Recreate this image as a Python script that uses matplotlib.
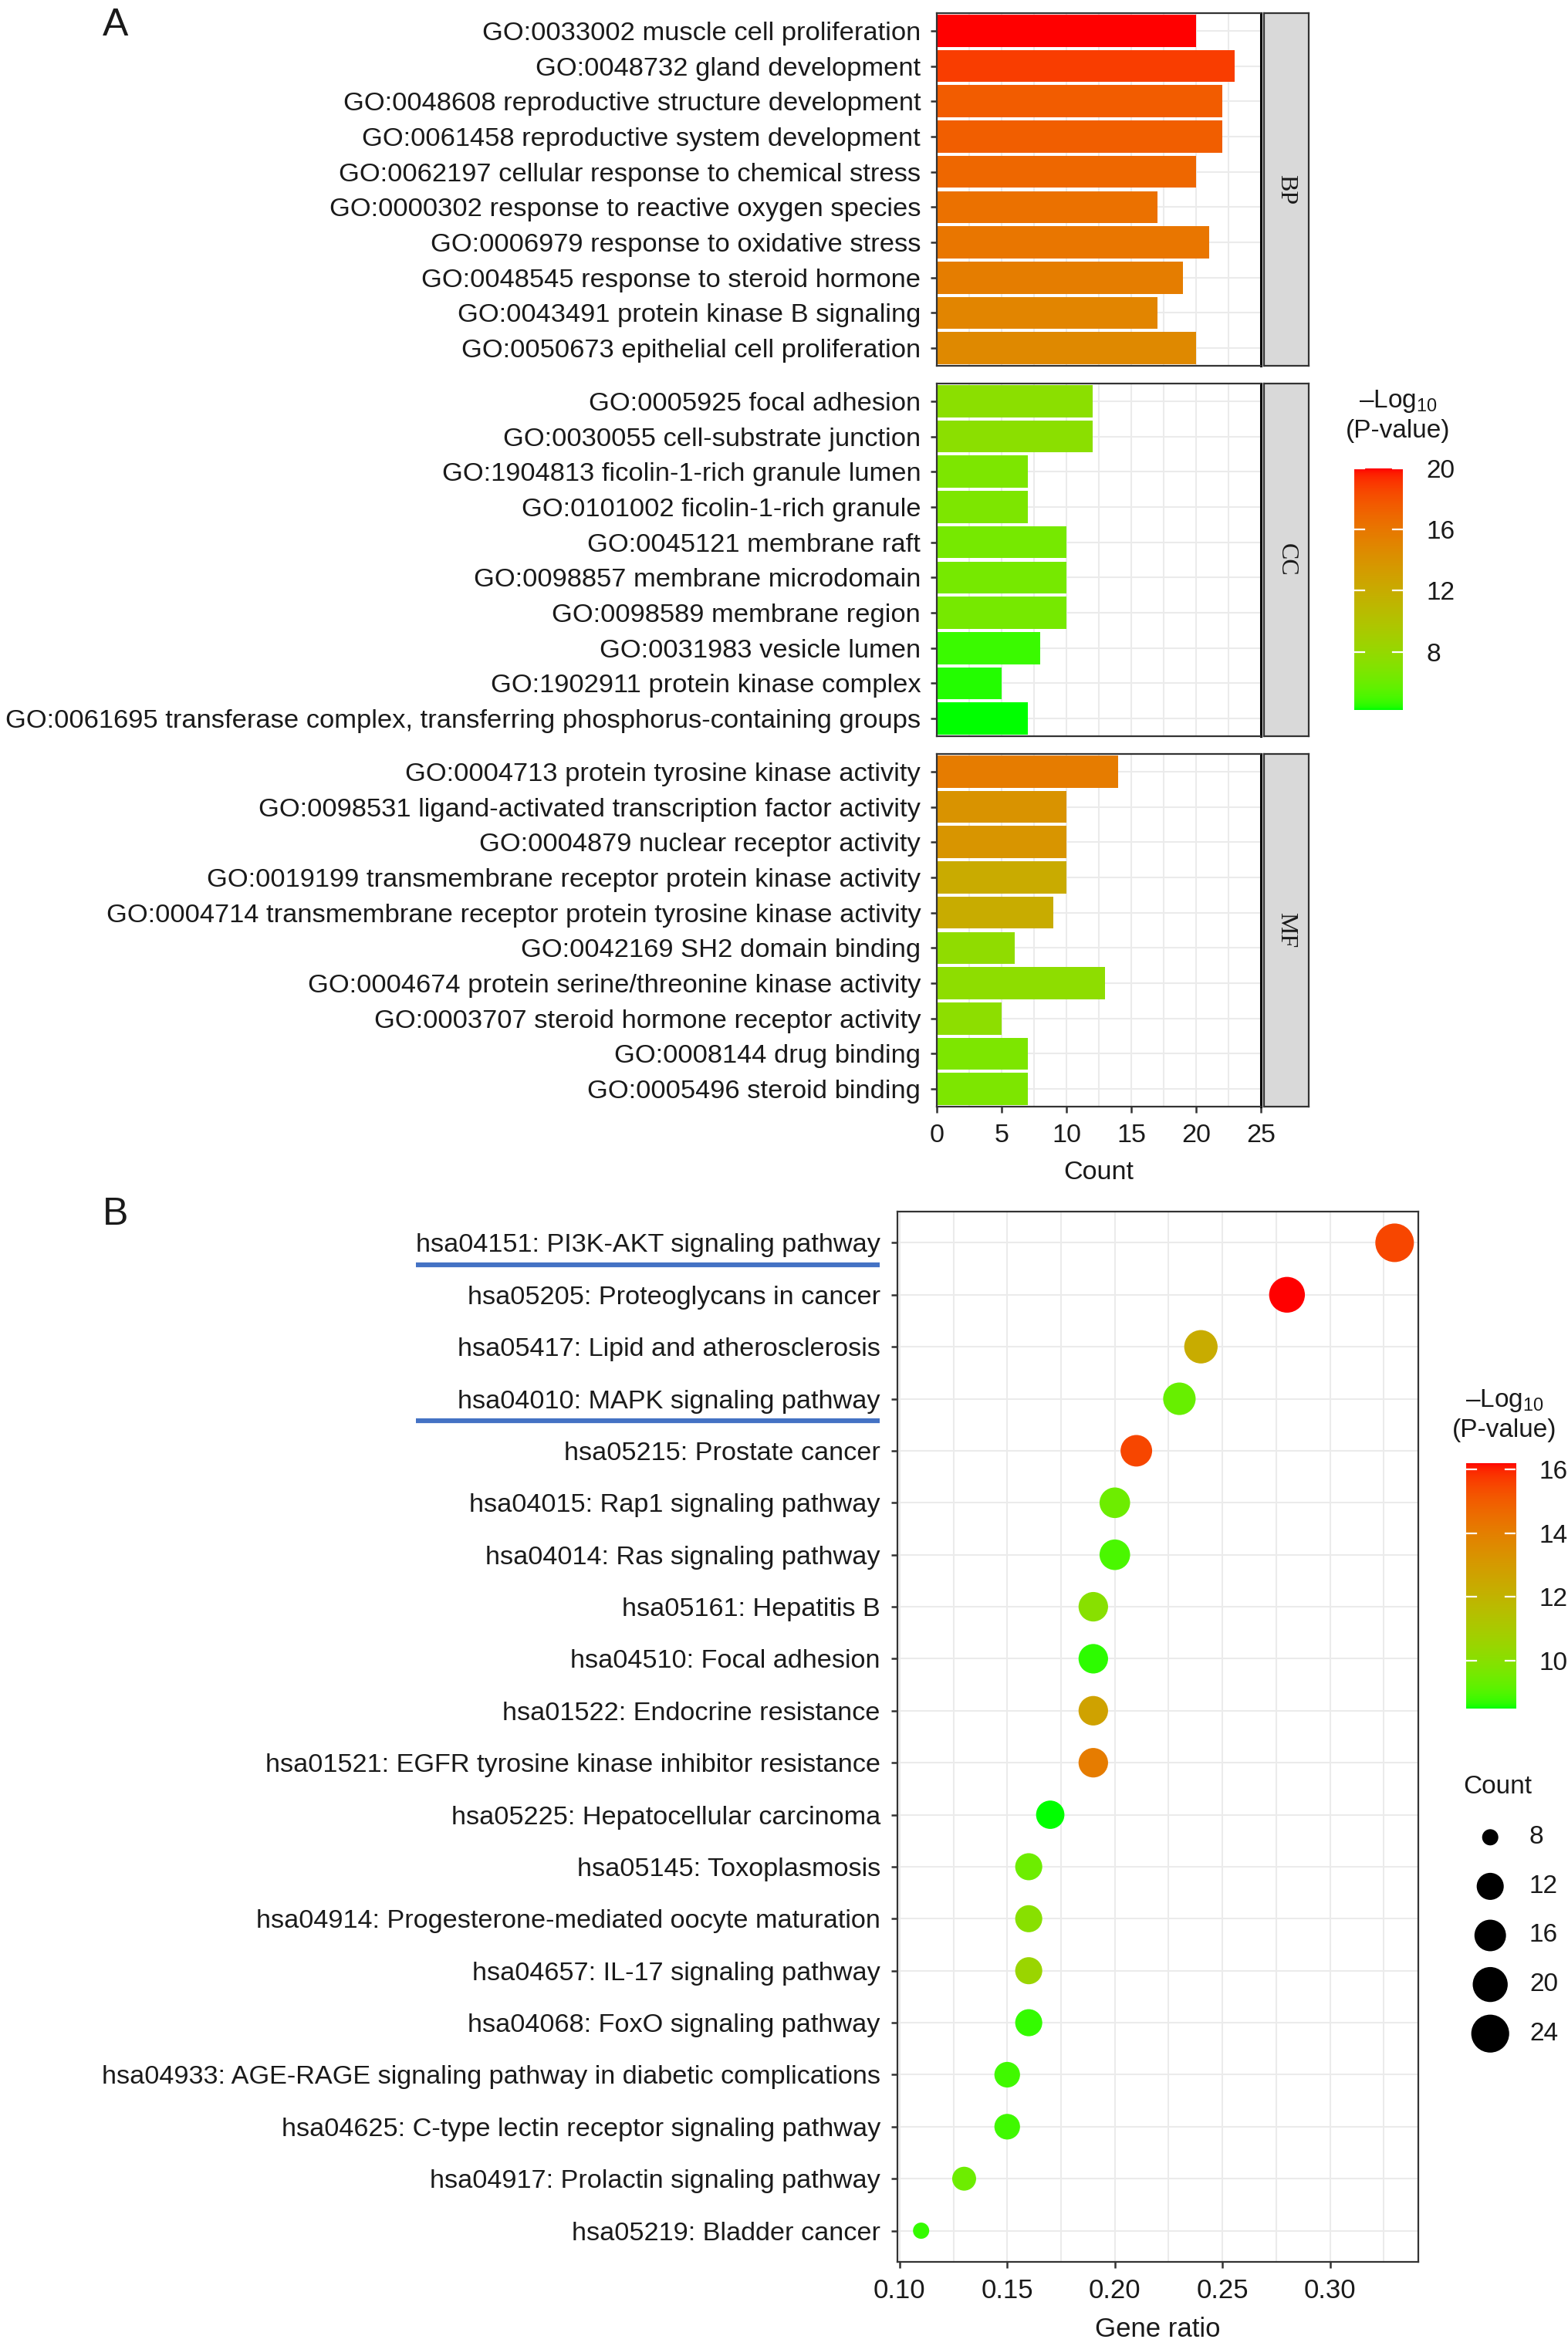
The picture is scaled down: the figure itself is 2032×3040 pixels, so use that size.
import numpy as np
import matplotlib
matplotlib.use("Agg")
import matplotlib.pyplot as plt
import matplotlib.transforms as mtransforms

plt.rcParams['font.family'] = ['Liberation Sans', 'DejaVu Sans']
plt.rcParams['mathtext.fontset'] = 'custom'
plt.rcParams['mathtext.rm'] = 'Liberation Sans'

W, H, DPI = 2032, 3040, 100
TXT = '#1a1a1a'

# ---------------- data: panel A (GO) ----------------
bp_terms = ["GO:0033002 muscle cell proliferation",
            "GO:0048732 gland development",
            "GO:0048608 reproductive structure development",
            "GO:0061458 reproductive system development",
            "GO:0062197 cellular response to chemical stress",
            "GO:0000302 response to reactive oxygen species",
            "GO:0006979 response to oxidative stress",
            "GO:0048545 response to steroid hormone",
            "GO:0043491 protein kinase B signaling",
            "GO:0050673 epithelial cell proliferation"]
bp_count = [20, 23, 22, 22, 20, 17, 21, 19, 17, 20]
bp_logp = [20.0, 18.9, 17.6, 17.5, 17.0, 16.4, 16.1, 15.6, 15.1, 14.8]

cc_terms = ["GO:0005925 focal adhesion",
            "GO:0030055 cell-substrate junction",
            "GO:1904813 ficolin-1-rich granule lumen",
            "GO:0101002 ficolin-1-rich granule",
            "GO:0045121 membrane raft",
            "GO:0098857 membrane microdomain",
            "GO:0098589 membrane region",
            "GO:0031983 vesicle lumen",
            "GO:1902911 protein kinase complex",
            "GO:0061695 transferase complex, transferring phosphorus-containing groups"]
cc_count = [12, 12, 7, 7, 10, 10, 10, 8, 5, 7]
cc_logp = [7.4, 7.4, 6.7, 6.7, 6.4, 6.4, 6.4, 4.7, 4.4, 4.2]

mf_terms = ["GO:0004713 protein tyrosine kinase activity",
            "GO:0098531 ligand-activated transcription factor activity",
            "GO:0004879 nuclear receptor activity",
            "GO:0019199 transmembrane receptor protein kinase activity",
            "GO:0004714 transmembrane receptor protein tyrosine kinase activity",
            "GO:0042169 SH2 domain binding",
            "GO:0004674 protein serine/threonine kinase activity",
            "GO:0003707 steroid hormone receptor activity",
            "GO:0008144 drug binding",
            "GO:0005496 steroid binding"]
mf_count = [14, 10, 10, 10, 9, 6, 13, 5, 7, 7]
mf_logp = [15.7, 14.0, 13.9, 12.1, 12.0, 7.7, 7.6, 7.5, 6.7, 6.7]

go_facets = ["BP", "CC", "MF"]
go_ticks = [0, 5, 10, 15, 20, 25]
go_cbar_ticks = [8, 12, 16, 20]

# ---------------- data: panel B (KEGG) ----------------
kegg_terms = ["hsa04151: PI3K-AKT signaling pathway",
              "hsa05205: Proteoglycans in cancer",
              "hsa05417: Lipid and atherosclerosis",
              "hsa04010: MAPK signaling pathway",
              "hsa05215: Prostate cancer",
              "hsa04015: Rap1 signaling pathway",
              "hsa04014: Ras signaling pathway",
              "hsa05161: Hepatitis B",
              "hsa04510: Focal adhesion",
              "hsa01522: Endocrine resistance",
              "hsa01521: EGFR tyrosine kinase inhibitor resistance",
              "hsa05225: Hepatocellular carcinoma",
              "hsa05145: Toxoplasmosis",
              "hsa04914: Progesterone-mediated oocyte maturation",
              "hsa04657: IL-17 signaling pathway",
              "hsa04068: FoxO signaling pathway",
              "hsa04933: AGE-RAGE signaling pathway in diabetic complications",
              "hsa04625: C-type lectin receptor signaling pathway",
              "hsa04917: Prolactin signaling pathway",
              "hsa05219: Bladder cancer"]
kegg_ratio = [0.33, 0.28, 0.24, 0.23, 0.21, 0.20, 0.20, 0.19, 0.19, 0.19,
              0.19, 0.17, 0.16, 0.16, 0.16, 0.16, 0.15, 0.15, 0.13, 0.11]
kegg_count = [25, 21, 18, 17, 16, 15, 15, 14, 14, 14,
              14, 13, 12, 12, 12, 12, 11, 11, 10, 8]
kegg_logp = [15.5, 16.2, 12.3, 9.3, 15.5, 9.4, 8.9, 10.0, 8.65, 12.7,
             14.1, 8.5, 9.4, 10.0, 10.5, 8.7, 8.8, 8.8, 9.4, 8.7]
kegg_ticks = [0.10, 0.15, 0.20, 0.25, 0.30]
kegg_cbar_ticks = [10, 12, 14, 16]
count_breaks = [8, 12, 16, 20, 24]
underlined = ["hsa04151: PI3K-AKT signaling pathway", "hsa04010: MAPK signaling pathway"]


# ---------------- green -> red gradient in Lab (like ggplot) ----------------
M = np.array([[0.4124, 0.3576, 0.1805],
              [0.2126, 0.7152, 0.0722],
              [0.0193, 0.1192, 0.9505]])
WHITE = np.array([0.95047, 1.0, 1.08883])


def to_lab(rgb):
    c = np.asarray(rgb, float)
    lin = np.where(c <= 0.04045, c / 12.92, ((c + 0.055) / 1.055) ** 2.4)
    xyz = (M @ lin) / WHITE
    f = np.where(xyz > 216 / 24389, np.cbrt(xyz), (24389 / 27 * xyz + 16) / 116)
    return np.array([116 * f[1] - 16, 500 * (f[0] - f[1]), 200 * (f[1] - f[2])])


def to_rgb(lab):
    L, a, b = lab
    fy = (L + 16) / 116
    f = np.array([fy + a / 500, fy, fy - b / 200])
    xyz = np.where(f ** 3 > 216 / 24389, f ** 3, (116 * f - 16) / (24389 / 27)) * WHITE
    lin = np.clip(np.linalg.solve(M, xyz), 0, 1)
    c = np.where(lin <= 0.0031308, 12.92 * lin, 1.055 * lin ** (1 / 2.4) - 0.055)
    return np.clip(c, 0, 1)


LAB_LO = to_lab([0, 1, 0])
LAB_HI = to_lab([1, 0, 0])


def grad(v, vmin, vmax):
    t = np.clip((np.asarray(v, float) - vmin) / (vmax - vmin), 0, 1)
    return [to_rgb(LAB_LO + (LAB_HI - LAB_LO) * ti) for ti in np.atleast_1d(t)]


def px_axes(fig, left, top, right, bottom):
    return fig.add_axes([left / W, 1 - bottom / H, (right - left) / W, (bottom - top) / H])


def colorbar(fig, box, vmin, vmax, ticks):
    cax = px_axes(fig, *box)
    vals = np.linspace(vmin, vmax, 200)
    img = np.array(grad(vals, vmin, vmax))[:, None, :]
    cax.imshow(img, origin='lower', aspect='auto', extent=[0, 1, vmin, vmax])
    for t in ticks:
        cax.plot([0, 0.2], [t, t], color='white', lw=1.6)
        cax.plot([0.8, 1], [t, t], color='white', lw=1.6)
    cax.set_xlim(0, 1)
    cax.set_ylim(vmin, vmax)
    cax.set_xticks([])
    cax.yaxis.tick_right()
    cax.set_yticks(ticks)
    cax.set_yticklabels([str(t) for t in ticks], fontsize=24, color=TXT)
    cax.tick_params(axis='y', length=0, pad=22)
    for s in cax.spines.values():
        s.set_visible(False)
    return cax


fig = plt.figure(figsize=(W / DPI, H / DPI), dpi=DPI)

# ---------------- panel A ----------------
go_data = [(bp_terms, bp_count, bp_logp), (cc_terms, cc_count, cc_logp), (mf_terms, mf_count, mf_logp)]
a_vmin = min(min(bp_logp), min(cc_logp), min(mf_logp))
a_vmax = max(max(bp_logp), max(cc_logp), max(mf_logp))
a_tops = [17, 497, 977]
for i, (terms, counts, logp) in enumerate(go_data):
    top = a_tops[i]
    ax = px_axes(fig, 1214, top, 1634, top + 457)
    y = np.arange(len(terms))[::-1]
    ax.barh(y, counts, height=0.91, color=grad(logp, a_vmin, a_vmax), zorder=2)
    ax.set_xlim(0, 25)
    ax.set_ylim(-0.5, len(terms) - 0.5)
    ax.set_yticks(y)
    ax.set_yticklabels(terms, fontsize=24.8, color=TXT)
    ax.set_xticks(go_ticks)
    ax.set_xticks(np.arange(2.5, 25, 5), minor=True)
    ax.grid(which='both', color='#EBEBEB', lw=1.5, zorder=0)
    ax.set_axisbelow(True)
    ax.tick_params(axis='y', length=6, width=1.8, pad=9, color='#333333')
    ax.tick_params(axis='x', which='minor', length=0)
    for s in ax.spines.values():
        s.set_color('#333333')
        s.set_linewidth(1.6)
    ax.spines['right'].set_color('black')
    ax.spines['right'].set_linewidth(2.2)
    if i < 2:
        ax.tick_params(axis='x', which='major', length=0, labelbottom=False)
    else:
        ax.tick_params(axis='x', which='major', length=6, width=1.8, pad=10,
                       labelsize=24.6, labelcolor=TXT, color='#333333')
        ax.set_xlabel("Count", fontsize=24.6, color=TXT, labelpad=12)
    strip = px_axes(fig, 1638, top, 1696, top + 457)
    strip.set_facecolor('#D9D9D9')
    strip.set_xticks([])
    strip.set_yticks([])
    for s in strip.spines.values():
        s.set_color('#333333')
        s.set_linewidth(1.6)
    strip.text(0.5, 0.5, go_facets[i], rotation=-90, ha='center', va='center',
               fontsize=23, family='Liberation Serif', color=TXT, transform=strip.transAxes)

colorbar(fig, (1755, 607, 1818, 920), a_vmin, a_vmax, go_cbar_ticks)
fig.text(1812 / W, 1 - 520 / H, "\u2013Log" + r"$_{\mathrm{10}}$", fontsize=24, color=TXT,
         ha='center', va='center')
fig.text(1812 / W, 1 - 558 / H, "(P-value)", fontsize=24, color=TXT, ha='center', va='center')
fig.text(150 / W, 1 - 33 / H, "A", fontsize=36, color=TXT, ha='center', va='center')

# ---------------- panel B ----------------
axb = px_axes(fig, 1163, 1570, 1838, 2931)
yb = np.arange(len(kegg_terms))[::-1]


def dot_size(c):
    d_px = 21 + 29 * np.sqrt((np.asarray(c, float) - 8) / 17)
    return (d_px * 72 / DPI) ** 2


b_vmin, b_vmax = min(kegg_logp), max(kegg_logp)
axb.scatter(kegg_ratio, yb, s=dot_size(kegg_count), c=grad(kegg_logp, b_vmin, b_vmax),
            edgecolors='none', zorder=3)
axb.set_xlim(0.099, 0.341)
axb.set_ylim(-0.6, len(kegg_terms) - 0.4)
axb.set_yticks(yb)
axb.set_yticklabels(kegg_terms, fontsize=24.7, color=TXT)
axb.set_xticks(kegg_ticks)
axb.set_xticklabels(["%.2f" % t for t in kegg_ticks])
axb.set_xticks(np.arange(0.125, 0.34, 0.05), minor=True)
axb.grid(which='both', color='#EBEBEB', lw=1.5, zorder=0)
axb.set_axisbelow(True)
axb.tick_params(axis='y', length=6, width=1.8, pad=10, color='#333333')
axb.tick_params(axis='x', which='major', length=6, width=1.8, pad=9, labelsize=25,
                labelcolor=TXT, color='#333333')
axb.tick_params(axis='x', which='minor', length=0)
for s in axb.spines.values():
    s.set_color('#333333')
    s.set_linewidth(1.6)
axb.set_xlabel("Gene ratio", fontsize=25, color=TXT, labelpad=12)

# blue underlines below highlighted pathways
trans = mtransforms.blended_transform_factory(fig.transFigure, axb.transData)
for term in underlined:
    row = yb[kegg_terms.index(term)]
    axb.plot([539 / W, 1140 / W], [row - 0.42, row - 0.42], color='#4472C4', lw=4.5,
             transform=trans, clip_on=False, solid_capstyle='butt')

colorbar(fig, (1900, 1896, 1964, 2214), b_vmin, b_vmax, kegg_cbar_ticks)
fig.text(1950 / W, 1 - 1815 / H, "\u2013Log" + r"$_{\mathrm{10}}$", fontsize=24, color=TXT,
         ha='center', va='center')
fig.text(1950 / W, 1 - 1853 / H, "(P-value)", fontsize=24, color=TXT, ha='center', va='center')

# size legend
fig.text(1896 / W, 1 - 2315 / H, "Count", fontsize=24, color=TXT, va='center')
lax = px_axes(fig, 1900, 2349, 2030, 2667)
ly = np.arange(len(count_breaks))[::-1]
lax.scatter([0.24] * len(count_breaks), ly, s=dot_size(count_breaks), c='black', edgecolors='none')
for yy, c in zip(ly, count_breaks):
    lax.text(0.63, yy, str(c), fontsize=24, color=TXT, va='center')
lax.set_xlim(0, 1)
lax.set_ylim(-0.5, len(count_breaks) - 0.5)
lax.axis('off')

fig.text(150 / W, 1 - 1574 / H, "B", fontsize=36, color=TXT, ha='center', va='center')

fig.savefig("out.png", dpi=DPI, facecolor='white')
